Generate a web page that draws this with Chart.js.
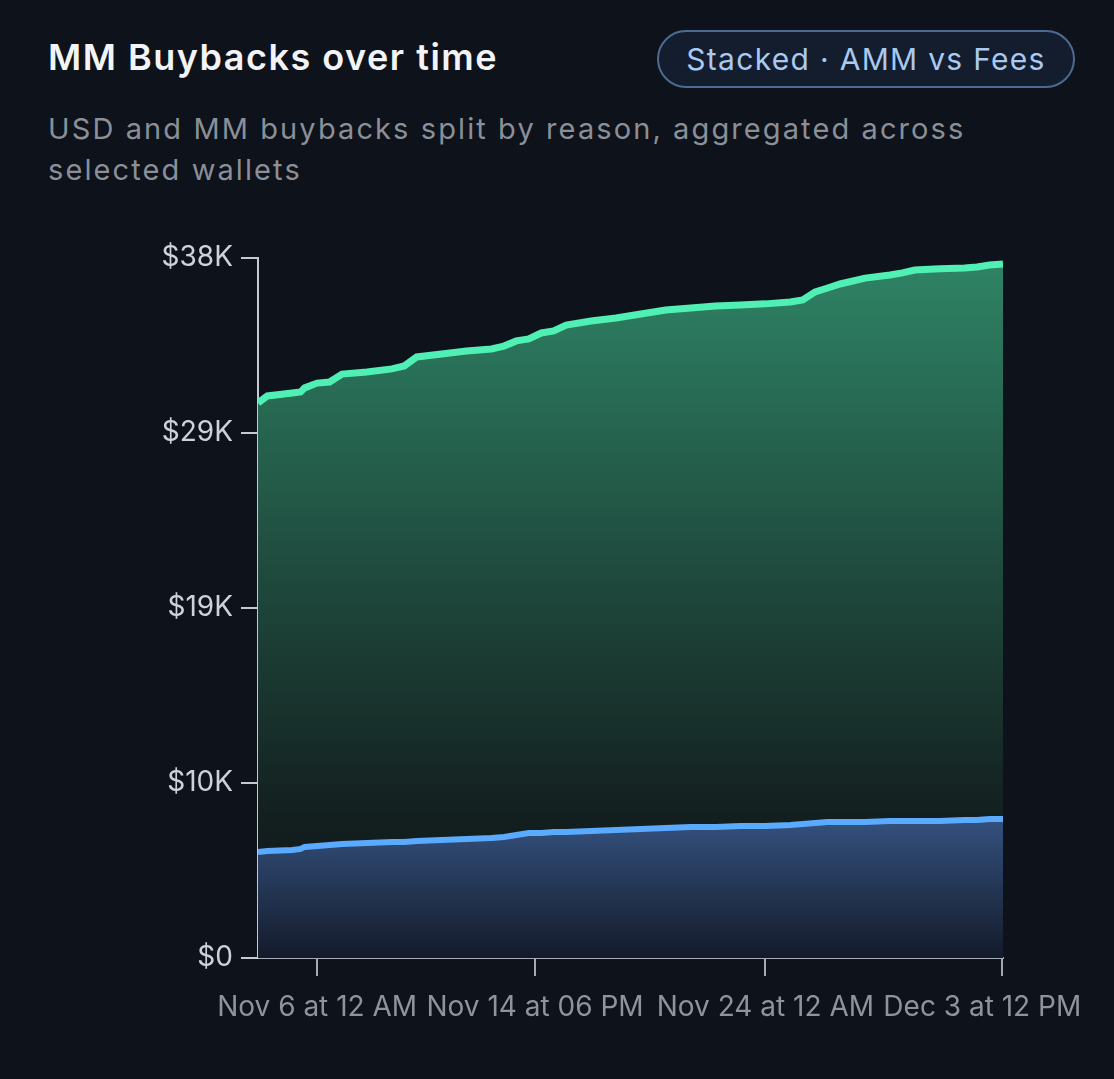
<!DOCTYPE html>
<html>
<head>
<meta charset="utf-8">
<title>MM Buybacks over time</title>
<script src="https://cdn.jsdelivr.net/npm/chart.js@4.4.1/dist/chart.umd.min.js"></script>
<style>
    html, body {
        margin: 0;
        padding: 0;
        background: #0e121a;
        width: 1114px;
        height: 1079px;
        overflow: hidden;
        font-family: Inter, "Noto Sans", sans-serif;
    }
    .title {
        position: absolute;
        left: 48px;
        top: 35px;
        font-size: 36px;
        font-weight: 600;
        color: #f2f4f7;
        letter-spacing: 1.5px;
    }
    .badge {
        position: absolute;
        left: 657px;
        top: 30px;
        width: 414px;
        height: 54px;
        border: 2px solid #4d6a92;
        border-radius: 29px;
        background: #131d2e;
        color: #a9c9f1;
        font-size: 30px;
        letter-spacing: 1.3px;
        line-height: 54px;
        text-align: center;
    }
    .subtitle {
        position: absolute;
        left: 48px;
        top: 108px;
        width: 960px;
        font-size: 29px;
        letter-spacing: 2.1px;
        line-height: 41px;
        color: #8a8f98;
    }
    .chart-box {
        position: absolute;
        left: 0;
        top: 220px;
        width: 1114px;
        height: 840px;
    }
</style>
</head>
<body>
<div class="title">MM Buybacks over time</div>
<div class="badge">Stacked · AMM vs Fees</div>
<div class="subtitle">USD and MM buybacks split by reason, aggregated across selected wallets</div>
<div class="chart-box"><canvas id="buybackChart"></canvas></div>

<script>
// sample times (UTC)
const times = [
    '2024-11-03T15:00', '2024-11-04T00:00', '2024-11-05T00:00', '2024-11-05T08:00', '2024-11-05T12:00',
    '2024-11-06T00:00', '2024-11-06T12:00', '2024-11-07T00:00', '2024-11-08T00:00', '2024-11-09T00:00',
    '2024-11-09T12:00', '2024-11-10T00:00', '2024-11-11T00:00', '2024-11-12T00:00', '2024-11-13T00:00',
    '2024-11-13T12:00', '2024-11-14T00:00', '2024-11-14T12:00', '2024-11-15T00:00', '2024-11-15T12:00',
    '2024-11-16T00:00', '2024-11-17T00:00', '2024-11-18T00:00', '2024-11-19T00:00', '2024-11-20T00:00',
    '2024-11-21T00:00', '2024-11-22T00:00', '2024-11-23T00:00', '2024-11-24T00:00', '2024-11-25T00:00',
    '2024-11-25T12:00', '2024-11-26T00:00', '2024-11-26T12:00', '2024-11-27T00:00', '2024-11-28T00:00',
    '2024-11-29T00:00', '2024-11-29T12:00', '2024-11-30T00:00', '2024-12-01T00:00', '2024-12-02T00:00',
    '2024-12-02T12:00', '2024-12-03T00:00', '2024-12-03T13:00'
];

// Fees buybacks (bottom, blue)
const feesValues = [
    5750, 5810, 5860, 5920, 6030, 6080, 6130, 6190, 6240, 6300,
    6300, 6350, 6410, 6460, 6510, 6570, 6680, 6790, 6790, 6840,
    6840, 6890, 6950, 7000, 7060, 7110, 7110, 7170, 7170, 7220,
    7270, 7330, 7380, 7380, 7380, 7440, 7440, 7440, 7440, 7490,
    7490, 7550, 7550
];

// AMM buybacks (stacked on top, green)
const ammValues = [
    24380, 24700, 24810, 24810, 24920, 25130, 25140, 25510, 25570, 25680,
    25840, 26280, 26380, 26490, 26550, 26650, 26820, 26820, 27140, 27200,
    27520, 27690, 27790, 27960, 28120, 28180, 28280, 28280, 28340, 28390,
    28450, 28830, 28990, 29210, 29530, 29640, 29750, 29910, 29970, 29970,
    30020, 30070, 30130
];

const xTickTimes = ['2024-11-06T00:00', '2024-11-14T18:00', '2024-11-24T00:00', '2024-12-03T12:00'];
const yTickValues = [0, 9500, 19000, 28500, 38000];

const months = ['Jan', 'Feb', 'Mar', 'Apr', 'May', 'Jun', 'Jul', 'Aug', 'Sep', 'Oct', 'Nov', 'Dec'];

function toMs(s) {
    return Date.parse(s + ':00Z');
}

function formatTick(ms) {
    const d = new Date(ms);
    let h = d.getUTCHours();
    const ampm = h < 12 ? 'AM' : 'PM';
    h = h % 12 === 0 ? 12 : h % 12;
    const hh = h < 10 ? '0' + h : '' + h;
    return months[d.getUTCMonth()] + ' ' + d.getUTCDate() + ' at ' + hh + ' ' + ampm;
}

function verticalFill(stops) {
    return function(context) {
        const area = context.chart.chartArea;
        if (!area) return stops[0][1];
        const g = context.chart.ctx.createLinearGradient(0, area.top, 0, area.bottom);
        stops.forEach(s => g.addColorStop(s[0], s[1]));
        return g;
    };
}

const xs = times.map(toMs);
const font = { family: 'Inter, "Noto Sans", sans-serif', size: 28 };

window.onload = function() {
    const ctx = document.getElementById('buybackChart').getContext('2d');

    new Chart(ctx, {
        type: 'line',
        data: {
            datasets: [
                {
                    label: 'Fees',
                    data: xs.map((x, i) => ({ x: x, y: feesValues[i] })),
                    borderColor: '#5aaaff',
                    borderWidth: 6,
                    backgroundColor: verticalFill([
                        [0, '#3a5f95'],
                        [0.8, '#34527f'],
                        [1, '#141a2a']
                    ]),
                    fill: 'origin',
                    pointRadius: 0,
                    tension: 0
                },
                {
                    label: 'AMM',
                    data: xs.map((x, i) => ({ x: x, y: ammValues[i] })),
                    borderColor: '#50f0b4',
                    borderWidth: 7,
                    backgroundColor: verticalFill([
                        [0, '#2f8466'],
                        [0.45, '#1f4a3d'],
                        [0.8, '#131f1f'],
                        [1, '#0f141b']
                    ]),
                    fill: '-1',
                    pointRadius: 0,
                    tension: 0
                }
            ]
        },
        options: {
            responsive: true,
            maintainAspectRatio: false,
            animation: false,
            layout: {
                padding: { top: 38, right: 111, bottom: 0, left: 0 }
            },
            plugins: {
                legend: { display: false },
                tooltip: { enabled: false }
            },
            scales: {
                x: {
                    type: 'linear',
                    min: xs[0],
                    max: xs[xs.length - 1],
                    afterBuildTicks: function(scale) {
                        scale.ticks = xTickTimes.map(t => ({ value: toMs(t) }));
                    },
                    afterFit: function(scale) {
                        scale.height = 102;
                        // keep the plot edges fixed, labels may hang over
                        scale.paddingLeft = 0;
                        scale.paddingRight = 0;
                    },
                    grid: {
                        drawOnChartArea: false,
                        drawTicks: true,
                        tickLength: 18,
                        color: '#a4aab3',
                        lineWidth: 2
                    },
                    border: { display: true, color: '#a4aab3', width: 2 },
                    ticks: {
                        autoSkip: false,
                        maxRotation: 0,
                        padding: 15,
                        color: '#8f949c',
                        font: font,
                        callback: function(value, index, ticks) {
                            // last label is pulled in a little from the right edge
                            const label = formatTick(value);
                            return index === ticks.length - 1 ? label + '     ' : label;
                        }
                    }
                },
                y: {
                    stacked: true,
                    min: 0,
                    max: 38000,
                    afterBuildTicks: function(scale) {
                        scale.ticks = yTickValues.map(v => ({ value: v }));
                    },
                    afterFit: function(scale) {
                        scale.width = 258;
                    },
                    grid: {
                        drawOnChartArea: false,
                        drawTicks: true,
                        tickLength: 17,
                        color: '#c3cad6',
                        lineWidth: 2
                    },
                    border: { display: true, color: '#c3cad6', width: 2 },
                    ticks: {
                        padding: 8,
                        color: '#cbd2dc',
                        font: font,
                        callback: function(value) {
                            return value === 0 ? '$0' : '$' + Math.round(value / 1000) + 'K';
                        }
                    }
                }
            }
        }
    });
};
</script>
</body>
</html>
